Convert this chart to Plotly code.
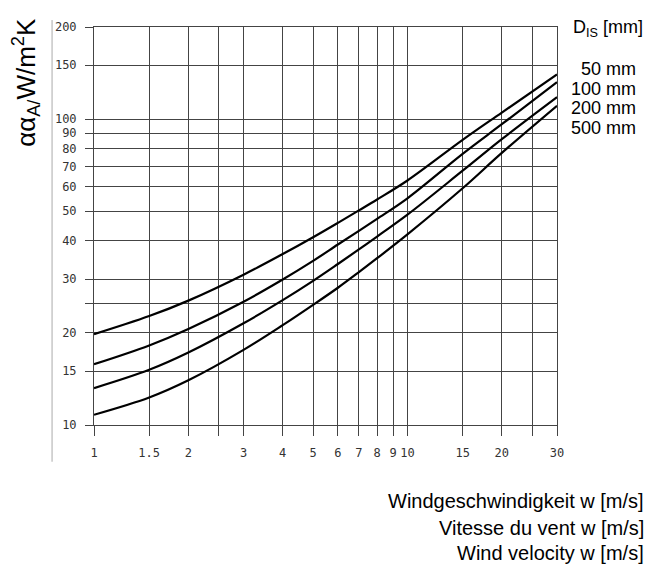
import plotly.graph_objects as go

# Wind velocity (m/s)
wind = [1, 1.5, 2, 3, 4, 5, 6, 7, 8, 10, 15, 20, 30]
# Heat transfer coefficient alpha_A (W/m2K) per insulation diameter
d50 = [19.8, 22.7, 25.5, 31.0, 36.2, 41.1, 45.8, 50.3, 54.6, 63.0, 85.5, 105.0, 140.0]
d100 = [15.8, 18.2, 20.6, 25.3, 29.9, 34.4, 38.9, 43.1, 47.2, 55.1, 77.0, 96.2, 132.0]
d200 = [13.2, 15.15, 17.25, 21.5, 25.6, 29.6, 33.6, 37.5, 41.3, 48.7, 67.8, 86.0, 118.0]
d500 = [10.8, 12.3, 14.0, 17.6, 21.2, 24.7, 28.1, 31.6, 35.1, 42.0, 59.4, 77.5, 110.5]

series = [("50 mm", d50), ("100 mm", d100), ("200 mm", d200), ("500 mm", d500)]

x_grid = [1, 1.5, 2, 2.5, 3, 4, 5, 6, 7, 8, 9, 10, 15, 20, 25, 30]
x_text = ["1", "1.5", "2", "", "3", "4", "5", "6", "7", "8", "9", "10", "15", "20", "", "30"]
y_grid = [10, 15, 20, 25, 30, 40, 50, 60, 70, 80, 90, 100, 150, 200]
y_text = ["10", "15", "20", "", "30", "40", "50", "60", "70", "80", "90", "100", "150", "200"]

fig = go.Figure()
for name, vals in series:
    fig.add_trace(go.Scatter(x=wind, y=vals, mode="lines", name=name,
                             line=dict(color="black", width=2.2, shape="spline", smoothing=1.0),
                             showlegend=False))

grid_col = "#444444"
tick_font = dict(family="DejaVu Sans Mono", size=12, color="#333333")

fig.update_xaxes(type="log", range=[0, 1.4771], tickmode="array", tickvals=x_grid, ticktext=x_text,
                 showgrid=True, gridcolor=grid_col, gridwidth=1,
                 ticks="outside", ticklen=10, tickcolor=grid_col, tickwidth=1,
                 showline=True, linecolor=grid_col, linewidth=1, mirror=True,
                 tickangle=0, ticklabelstandoff=7, tickfont=tick_font, zeroline=False)
fig.update_yaxes(type="log", range=[1, 2.30103], tickmode="array", tickvals=y_grid, ticktext=y_text,
                 showgrid=True, gridcolor=grid_col, gridwidth=1,
                 ticks="outside", ticklen=8, tickcolor=grid_col, tickwidth=1,
                 showline=True, linecolor=grid_col, linewidth=1, mirror=True,
                 ticklabelstandoff=6, tickfont=tick_font, zeroline=False)

ann = []
lab_font = dict(family="Liberation Sans, Arial", size=18, color="black")
leg_y = [0.8953, 0.8454, 0.7955, 0.7456]
for (name, _), yy in zip(series, leg_y):
    ann.append(dict(x=1.174, y=yy, xref="paper", yref="paper", text=name, showarrow=False,
                    xanchor="right", yanchor="middle", font=lab_font))
ann.append(dict(x=1.0294, y=0.997, xref="paper", yref="paper", text="D<sub>IS</sub> [mm]",
                showarrow=False, xanchor="left", yanchor="middle", font=lab_font))
ann.append(dict(x=-0.147, y=0.862, xref="paper", yref="paper",
                text="αα<sub>A/</sub>W/m<sup>2</sup>K", textangle=-90, showarrow=False,
                xanchor="center", yanchor="middle",
                font=dict(family="Liberation Sans, Arial", size=26, color="black")))
bottom = ["Windgeschwindigkeit w [m/s]", "Vitesse du vent w [m/s]", "Wind velocity w [m/s]"]
for t, yy in zip(bottom, [-0.192, -0.2586, -0.321]):
    ann.append(dict(x=1.193, y=yy, xref="paper", yref="paper", text=t, showarrow=False,
                    xanchor="right", yanchor="middle",
                    font=dict(family="Liberation Sans, Arial", size=20, color="black")))

# page body adds an 8px offset, so the figure is 8px smaller and margins shifted
fig.update_layout(width=660, height=556, margin=dict(l=86, r=110.6, t=16, b=139, pad=0),
                  paper_bgcolor="white", plot_bgcolor="white", annotations=ann,
                  shapes=[dict(type="line", xref="paper", yref="paper", x0=-0.0906, x1=-0.0906,
                               y0=1.0175, y1=-0.0923, line=dict(color="#aaaaaa", width=1))])

fig.write_html("out.html")
